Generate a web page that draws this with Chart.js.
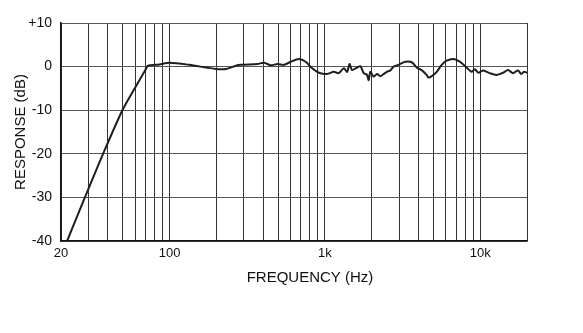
<!DOCTYPE html>
<html>
<head>
<meta charset="utf-8">
<script src="https://cdn.jsdelivr.net/npm/chart.js@4/dist/chart.umd.min.js"></script>
<style>
html,body{margin:0;padding:0;background:#fff;}
#c{display:block;}
</style>
</head>
<body>
<canvas id="c" width="583" height="333"></canvas>
<script>
// ---- data ----
const frequencies = [21.9,28.5,37.3,49.7,59.6,69.8,72.5,86,100,134,199,231,267,288,368,406,449,494,546,602,681,752,828,915,1033,1141,1228,1324,1390,1440,1497,1611,1694,1778,1866,1913,1962,2060,2162,2274,2388,2507,2637,2768,2978,3288,3623,3899,4197,4520,4636,4875,5248,5649,6080,6714,7413,8166,8790,9247,9705,10448,11535,12706,14030,15103,16256,17499,18369,19128,20000];
const responseDb = [-40,-30,-20,-10,-5,-0.8,0.2,0.5,0.9,0.4,-0.55,-0.55,0.2,0.4,0.6,0.9,0.3,0.6,0.4,1.1,1.75,1.1,-0.4,-1.4,-1.7,-1.2,-1.5,-0.4,-1.2,0.6,-0.8,-0.2,0.1,-1.5,-1.9,-3.1,-1.2,-2.3,-1.7,-2.2,-1.7,-1.2,-0.9,0,0.4,1.1,1.0,-0.2,-0.8,-1.9,-2.5,-2.2,-1.2,0.4,1.35,1.75,1.1,-0.2,-1.2,-0.6,-1.4,-0.9,-1.5,-1.9,-1.4,-0.8,-1.5,-0.9,-1.7,-1.2,-1.4];
const xTickValues = [20,30,40,50,60,70,80,90,100,200,300,400,500,600,700,800,900,1000,2000,3000,4000,5000,6000,7000,8000,9000,10000,20000];
const xTickLabelValues = [20,100,1000,10000];
const xTickLabelTexts = ['20','100','1k','10k'];
const yTickValues = [-40,-30,-20,-10,0,10];
const yTickLabels = ['-40','-30','-20','-10','0','+10'];
const xTitle = 'FREQUENCY (Hz)';
const yTitle = 'RESPONSE (dB)';

const FONT = "'Liberation Sans', Arial, sans-serif";

const xTitlePlugin = {
  id: 'xTitlePlugin',
  afterDraw(chart) {
    const ctx = chart.ctx;
    ctx.save();
    ctx.font = '15px ' + FONT;
    ctx.fillStyle = '#111';
    ctx.textAlign = 'center';
    ctx.textBaseline = 'middle';
    ctx.fillText(xTitle, 310, 278);
    ctx.restore();
  }
};

new Chart(document.getElementById('c'), {
  type: 'line',
  data: {
    datasets: [{
      data: frequencies.map((f, i) => ({x: f, y: responseDb[i]})),
      borderColor: '#1e1e1e',
      borderWidth: 2,
      pointRadius: 0,
      tension: 0.25,
      fill: false
    }]
  },
  options: {
    responsive: false,
    animation: false,
    events: [],
    layout: {padding: {left: 0, right: 56, top: 23, bottom: 0}},
    plugins: {legend: {display: false}, tooltip: {enabled: false}},
    scales: {
      x: {
        type: 'logarithmic',
        min: 20,
        max: 20000,
        afterBuildTicks(scale) {
          scale.ticks = xTickValues.map(v => ({value: v}));
        },
        afterFit(scale) { scale.height = 92; },
        grid: {color: '#333', lineWidth: 1, drawTicks: false},
        border: {color: '#111', width: 1.5},
        ticks: {
          autoSkip: false,
          maxRotation: 0,
          padding: 5,
          color: '#111',
          font: {family: FONT, size: 13},
          callback(value) {
            const i = xTickLabelValues.indexOf(value);
            return i >= 0 ? xTickLabelTexts[i] : '';
          }
        }
      },
      y: {
        type: 'linear',
        min: -40,
        max: 10,
        afterBuildTicks(scale) {
          scale.ticks = yTickValues.map(v => ({value: v}));
        },
        afterFit(scale) { scale.width = 61; },
        grid: {color: '#555', lineWidth: 1, drawTicks: false},
        border: {color: '#111', width: 1.5},
        ticks: {
          padding: 9,
          color: '#111',
          font: {family: FONT, size: 14},
          callback(value) {
            const i = yTickValues.indexOf(value);
            return i >= 0 ? yTickLabels[i] : '';
          }
        },
        title: {
          display: true,
          text: yTitle,
          color: '#111',
          font: {family: FONT, size: 15},
          padding: {top: 12, bottom: 0}
        }
      }
    }
  },
  plugins: [xTitlePlugin]
});
</script>
</body>
</html>
